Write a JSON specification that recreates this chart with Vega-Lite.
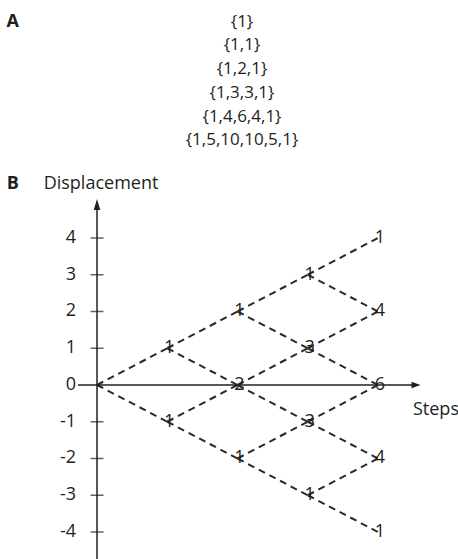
{
  "$schema": "https://vega.github.io/schema/vega-lite/v6.json",
  "padding": 0,
  "spacing": 0,
  "bounds": "flush",
  "config": {"view": {"stroke": null}, "font": "Open Sans"},
  "datasets": {
    "rows": [
      {"row": 0, "label": "{1}"},
      {"row": 1, "label": "{1,1}"},
      {"row": 2, "label": "{1,2,1}"},
      {"row": 3, "label": "{1,3,3,1}"},
      {"row": 4, "label": "{1,4,6,4,1}"},
      {"row": 5, "label": "{1,5,10,10,5,1}"}
    ],
    "nodes": [
      {"s": 1, "d": 1, "n": "1"}, {"s": 1, "d": -1, "n": "1"},
      {"s": 2, "d": 2, "n": "1"}, {"s": 2, "d": 0, "n": "2"}, {"s": 2, "d": -2, "n": "1"},
      {"s": 3, "d": 3, "n": "1"}, {"s": 3, "d": 1, "n": "3"}, {"s": 3, "d": -1, "n": "3"}, {"s": 3, "d": -3, "n": "1"},
      {"s": 4, "d": 4, "n": "1"}, {"s": 4, "d": 2, "n": "4"}, {"s": 4, "d": 0, "n": "6"}, {"s": 4, "d": -2, "n": "4"}, {"s": 4, "d": -4, "n": "1"}
    ],
    "edges": [
      {"s0": 0, "d0": 0, "s1": 1, "d1": 1}, {"s0": 0, "d0": 0, "s1": 1, "d1": -1},
      {"s0": 1, "d0": 1, "s1": 2, "d1": 2}, {"s0": 1, "d0": 1, "s1": 2, "d1": 0},
      {"s0": 1, "d0": -1, "s1": 2, "d1": 0}, {"s0": 1, "d0": -1, "s1": 2, "d1": -2},
      {"s0": 2, "d0": 2, "s1": 3, "d1": 3}, {"s0": 2, "d0": 2, "s1": 3, "d1": 1},
      {"s0": 2, "d0": 0, "s1": 3, "d1": 1}, {"s0": 2, "d0": 0, "s1": 3, "d1": -1},
      {"s0": 2, "d0": -2, "s1": 3, "d1": -1}, {"s0": 2, "d0": -2, "s1": 3, "d1": -3},
      {"s0": 3, "d0": 3, "s1": 4, "d1": 4}, {"s0": 3, "d0": 3, "s1": 4, "d1": 2},
      {"s0": 3, "d0": 1, "s1": 4, "d1": 2}, {"s0": 3, "d0": 1, "s1": 4, "d1": 0},
      {"s0": 3, "d0": -1, "s1": 4, "d1": 0}, {"s0": 3, "d0": -1, "s1": 4, "d1": -2},
      {"s0": 3, "d0": -3, "s1": 4, "d1": -2}, {"s0": 3, "d0": -3, "s1": 4, "d1": -4}
    ],
    "ticks": [
      {"v": 4, "lab": "4", "t": true}, {"v": 3, "lab": "3", "t": true}, {"v": 2, "lab": "2", "t": true},
      {"v": 1, "lab": "1", "t": true}, {"v": 0, "lab": "0", "t": false},
      {"v": -1, "lab": "-1", "t": true}, {"v": -2, "lab": "-2", "t": true},
      {"v": -3, "lab": "-3", "t": true}, {"v": -4, "lab": "-4", "t": true}
    ]
  },
  "vconcat": [
    {
      "width": 458,
      "height": 166,
      "layer": [
        {
          "data": {"name": "rows"},
          "mark": {"type": "text", "fontSize": 17, "baseline": "middle", "color": "#231f20"},
          "encoding": {
            "x": {"datum": 2.064, "type": "quantitative", "scale": {"domain": [-1.381, 5.139], "nice": false, "zero": false}, "axis": null},
            "y": {"field": "row", "type": "quantitative", "scale": {"domain": [-0.913, 6.074], "reverse": true, "nice": false, "zero": false}, "axis": null},
            "text": {"field": "label"}
          }
        },
        {
          "data": {"values": [{"panel": "A"}]},
          "mark": {"type": "text", "fontSize": 18, "fontWeight": "bold", "baseline": "middle", "color": "#231f20"},
          "encoding": {
            "x": {"datum": -1.2, "type": "quantitative", "scale": {"domain": [-1.381, 5.139], "nice": false, "zero": false}, "axis": null},
            "y": {"datum": 0, "type": "quantitative", "scale": {"domain": [-0.913, 6.074], "reverse": true, "nice": false, "zero": false}, "axis": null},
            "text": {"field": "panel"}
          }
        }
      ]
    },
    {
      "width": 458,
      "height": 393,
      "layer": [
        {
          "data": {"name": "edges"},
          "mark": {"type": "rule", "strokeDash": [7, 5], "strokeWidth": 2, "color": "#2a2a2a"},
          "encoding": {
            "x": {"field": "s0", "type": "quantitative", "scale": {"domain": [-1.381, 5.139], "nice": false, "zero": false}, "axis": null},
            "y": {"field": "d0", "type": "quantitative", "scale": {"domain": [-4.735, 5.959], "nice": false, "zero": false}, "axis": null},
            "x2": {"field": "s1"},
            "y2": {"field": "d1"}
          }
        },
        {
          "data": {"values": [{}]},
          "mark": {"type": "rule", "strokeWidth": 1.5, "color": "#231f20"},
          "encoding": {
            "x": {"datum": 0, "type": "quantitative"},
            "y": {"datum": -4.735, "type": "quantitative"},
            "y2": {"datum": 4.9}
          }
        },
        {
          "data": {"values": [{}]},
          "mark": {"type": "rule", "strokeWidth": 1.5, "color": "#231f20"},
          "encoding": {
            "x": {"datum": -0.27, "type": "quantitative"},
            "x2": {"datum": 4.53},
            "y": {"datum": 0, "type": "quantitative"}
          }
        },
        {
          "data": {"name": "ticks"},
          "transform": [{"filter": "datum.t"}],
          "mark": {"type": "tick", "orient": "horizontal", "size": 13, "thickness": 1.5, "color": "#231f20"},
          "encoding": {
            "x": {"datum": 0, "type": "quantitative"},
            "y": {"field": "v", "type": "quantitative"}
          }
        },
        {
          "data": {"name": "ticks"},
          "mark": {"type": "text", "align": "right", "baseline": "middle", "dx": -21, "fontSize": 18, "color": "#231f20"},
          "encoding": {
            "x": {"datum": 0, "type": "quantitative"},
            "y": {"field": "v", "type": "quantitative"},
            "text": {"field": "lab"}
          }
        },
        {
          "data": {"values": [{}]},
          "mark": {"type": "point", "shape": "M0,-1L0.6,1L-0.6,1Z", "filled": true, "size": 121, "color": "#231f20", "opacity": 1},
          "encoding": {
            "x": {"datum": 0, "type": "quantitative"},
            "y": {"datum": 4.912, "type": "quantitative"}
          }
        },
        {
          "data": {"values": [{}]},
          "mark": {"type": "point", "shape": "M1,0L-1,-0.7L-1,0.7Z", "filled": true, "size": 81, "color": "#231f20", "opacity": 1},
          "encoding": {
            "x": {"datum": 4.541, "type": "quantitative"},
            "y": {"datum": 0, "type": "quantitative"}
          }
        },
        {
          "data": {"name": "nodes"},
          "mark": {"type": "text", "baseline": "middle", "dx": 2, "fontSize": 18, "color": "#231f20"},
          "encoding": {
            "x": {"field": "s", "type": "quantitative"},
            "y": {"field": "d", "type": "quantitative"},
            "text": {"field": "n"}
          }
        },
        {
          "data": {"values": [{"label": "Displacement"}]},
          "mark": {"type": "text", "align": "center", "baseline": "middle", "dx": 4, "fontSize": 18, "color": "#231f20"},
          "encoding": {
            "x": {"datum": 0, "type": "quantitative"},
            "y": {"datum": 5.469, "type": "quantitative"},
            "text": {"field": "label"}
          }
        },
        {
          "data": {"values": [{"panel": "B"}]},
          "mark": {"type": "text", "align": "center", "baseline": "middle", "fontSize": 18, "fontWeight": "bold", "color": "#231f20"},
          "encoding": {
            "x": {"datum": -1.2, "type": "quantitative"},
            "y": {"datum": 5.469, "type": "quantitative"},
            "text": {"field": "panel"}
          }
        },
        {
          "data": {"values": [{"label": "Steps"}]},
          "mark": {"type": "text", "align": "left", "baseline": "middle", "fontSize": 18, "color": "#231f20"},
          "encoding": {
            "x": {"datum": 4.498, "type": "quantitative"},
            "y": {"datum": -0.68, "type": "quantitative"},
            "text": {"field": "label"}
          }
        }
      ]
    }
  ]
}
